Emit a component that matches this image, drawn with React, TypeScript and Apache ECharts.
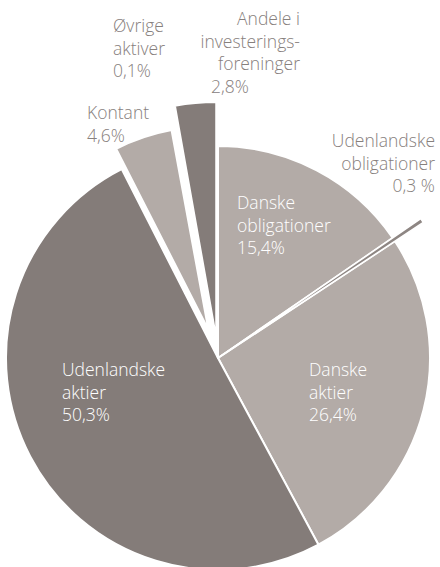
import React, { useEffect, useRef } from 'react';
import * as echarts from 'echarts';

// ---- data ----
const categories = [
  'Danske obligationer',
  'Udenlandske obligationer',
  'Danske aktier',
  'Udenlandske aktier',
  'Kontant',
  'Øvrige aktiver',
  'Andele i investeringsforeninger',
];
const values = [15.4, 0.3, 26.4, 50.3, 4.6, 0.1, 2.8];
const labelLines = [
  ['Danske', 'obligationer'],
  ['Udenlandske', 'obligationer'],
  ['Danske', 'aktier'],
  ['Udenlandske', 'aktier'],
  ['Kontant'],
  ['Øvrige', 'aktiver'],
  ['Andele i', 'investerings-', 'foreninger'],
];
const percentSep = ['', ' ', '', '', '', '', ''];

// ---- layout / style ----
const CENTER = [218, 358];
const LIGHT = '#b3aba7';
const DARK = '#847c79';
const SLIVER = '#8e8683';
const GRAY_TEXT = '#87807d';
const colors = [LIGHT, SLIVER, LIGHT, DARK, LIGHT, DARK, DARK];

const layers = [
  { items: [0, 2, 3, 5], radius: 212, offset: 0, border: 2 },
  { items: [1], radius: 246, offset: 0, border: 1.5 },
  { items: [4], radius: 203, offset: 30, border: 2 },
  { items: [6], radius: 236, offset: 20, border: 2 },
];

const labelLayout = [
  { x: 237, y: 202, align: 'left', fill: '#ffffff' },
  { x: 435, y: 140, align: 'right', fill: GRAY_TEXT },
  { x: 309, y: 369, align: 'left', fill: '#ffffff' },
  { x: 62, y: 369, align: 'left', fill: '#ffffff' },
  { x: 87, y: 112, align: 'left', fill: GRAY_TEXT },
  { x: 113, y: 25, align: 'left', fill: GRAY_TEXT },
  { x: 300, y: 18, align: 'right', fill: GRAY_TEXT, pctX: 211, pctAlign: 'left' },
];
const LINE_H = 22.5;
const FONT = '300 17.5px "Open Sans", sans-serif';

function fmt(v: number, i: number) {
  return v.toFixed(1).replace('.', ',') + percentSep[i] + '%';
}

export default function App() {
  const ref = useRef<HTMLDivElement>(null);
  useEffect(() => {
    if (!ref.current) return;
    const chart = echarts.init(ref.current, undefined, { renderer: 'svg' });

    const series = layers.map((layer) => ({
      type: 'pie',
      center: CENTER,
      radius: [0, layer.radius],
      startAngle: 90,
      clockwise: true,
      silent: true,
      selectedMode: 'multiple',
      selectedOffset: layer.offset,
      label: { show: false },
      labelLine: { show: false },
      emphasis: { disabled: true },
      data: categories.map((name, i) => {
        const visible = layer.items.includes(i);
        const style = visible
          ? { color: colors[i], borderColor: '#ffffff', borderWidth: layer.border }
          : { color: 'rgba(0,0,0,0)', borderWidth: 0 };
        return {
          name,
          value: values[i],
          selected: visible && layer.offset > 0,
          itemStyle: style,
          select: { itemStyle: style },
        };
      }),
    }));

    const graphics: any[] = [];
    categories.forEach((_, i) => {
      const L: any = labelLayout[i];
      const lines = labelLines[i];
      lines.forEach((t, k) => {
        graphics.push({
          type: 'text',
          x: L.x,
          y: L.y + k * LINE_H,
          z: 100,
          silent: true,
          style: { text: t, fill: L.fill, font: FONT, textAlign: L.align, textVerticalAlign: 'middle' },
        });
      });
      graphics.push({
        type: 'text',
        x: L.pctX !== undefined ? L.pctX : L.x,
        y: L.y + lines.length * LINE_H,
        z: 100,
        silent: true,
        style: {
          text: fmt(values[i], i),
          fill: L.fill,
          font: FONT,
          textAlign: L.pctAlign || L.align,
          textVerticalAlign: 'middle',
        },
      });
    });

    chart.setOption({
      animation: false,
      backgroundColor: '#ffffff',
      series,
      graphic: { elements: graphics },
    });
    return () => chart.dispose();
  }, []);
  return <div ref={ref} style={{ position: 'absolute', left: 0, top: 0, width: 440, height: 567 }} />;
}
